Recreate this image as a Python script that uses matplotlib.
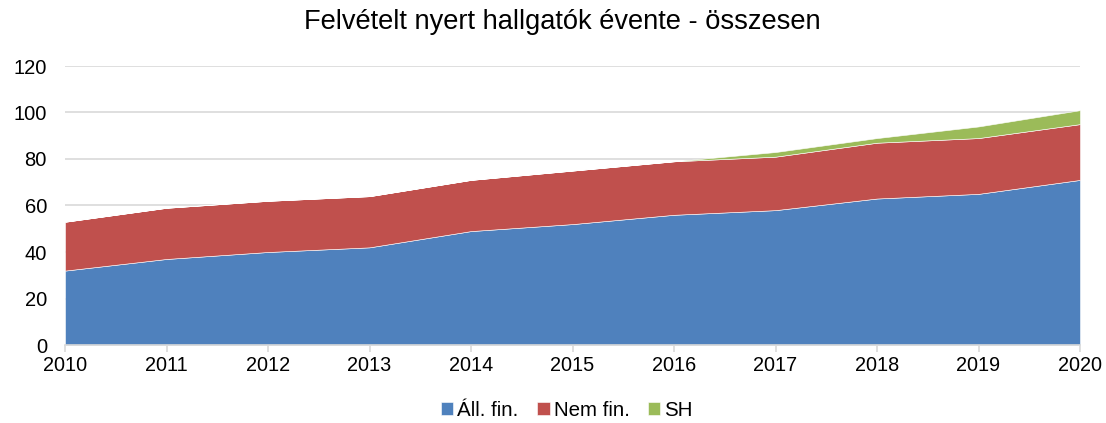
import matplotlib
matplotlib.use("Agg")
import matplotlib.pyplot as plt

years = [2010, 2011, 2012, 2013, 2014, 2015, 2016, 2017, 2018, 2019, 2020]
all_fin = [32, 37, 40, 42, 49, 52, 56, 58, 63, 65, 71]
nem_fin = [21, 22, 22, 22, 22, 23, 23, 23, 24, 24, 24]
sh = [0, 0, 0, 0, 0, 0, 0, 2, 2, 5, 6]
labels = ["Áll. fin.", "Nem fin.", "SH"]
colors = ["#4F81BD", "#C0504D", "#9BBB59"]

plt.rcParams['font.family'] = ['Liberation Sans', 'DejaVu Sans']

W, H = 1106, 423
fig = plt.figure(figsize=(W / 100, H / 100), dpi=100)
ax = fig.add_axes([65 / W, (H - 345) / H, (1080 - 65) / W, (345 - 66) / H])

polys = ax.stackplot(years, all_fin, nem_fin, sh, labels=labels, colors=colors,
                     edgecolor="white", linewidth=0.4, zorder=2)

ax.set_xlim(2010, 2020)
ax.set_ylim(0, 120)
ax.set_yticks(range(0, 121, 20))
ax.set_xticks(years)
ax.yaxis.grid(True, color="#D9D9D9", linewidth=1.2, zorder=0)
ax.set_axisbelow(True)
for s in ["top", "right", "left"]:
    ax.spines[s].set_visible(False)
ax.spines["bottom"].set_color("#D9D9D9")
ax.spines["bottom"].set_linewidth(1.2)
ax.spines["bottom"].set_zorder(3)
ax.tick_params(axis="y", length=0, labelsize=14.5, pad=13, colors="black")
ax.tick_params(axis="x", length=5, color="#D9D9D9", width=1.2, labelsize=14.3, pad=3)

fig.text(562 / W, 1 - 22 / H, "Felvételt nyert hallgatók évente - összesen", ha="center",
         va="center", fontsize=19.6)

leg = fig.legend(handles=polys, labels=labels, loc="center",
                 bbox_to_anchor=(567 / W, (H - 410) / H),
                 ncol=3, frameon=False, fontsize=14.8, handlelength=0.6, handleheight=0.6,
                 handletextpad=0.2, columnspacing=0.9)

fig.savefig("out.png", dpi=100)
